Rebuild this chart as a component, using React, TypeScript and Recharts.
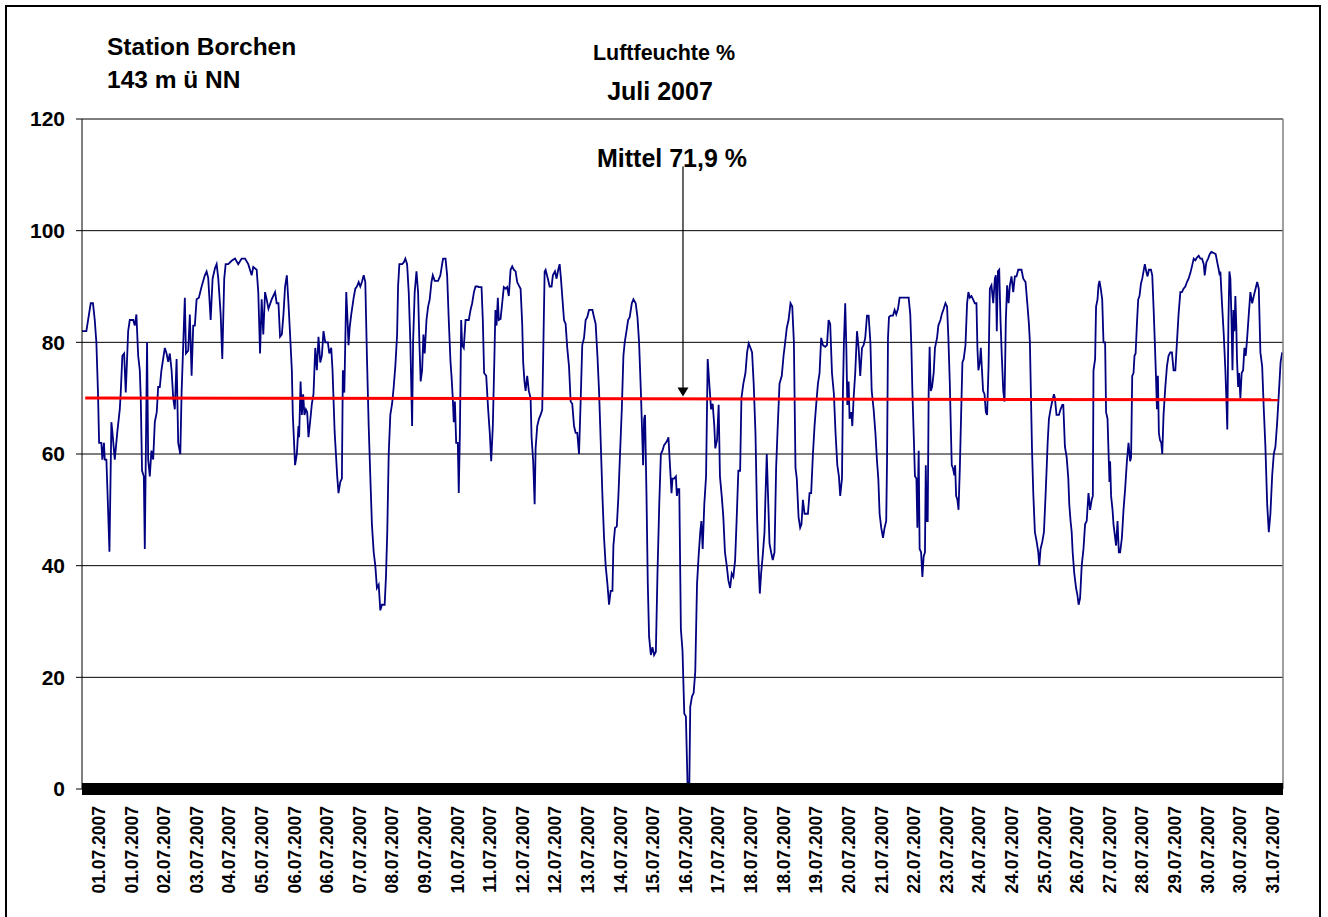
import React from 'react';
import { LineChart, Line, XAxis, YAxis, CartesianGrid, ReferenceLine, ReferenceDot } from 'recharts';

// Hourly relative humidity, July 2007 – [hour since 01.07. 00:00, %]
const period1: [number, number][] = [
  [0,82],[2.7,82],[5.4,87],[6.8,87],[7.9,84],[8.9,80],[9.9,71],[10.6,62],[12,62],[12.6,59],[13.6,62],[14.1,59],[15.1,59],[15.7,54],[17,42.5],[18.2,65.7],[18.8,64],[20.3,59],[21.9,64],[23.4,68],[24,71],[25,77.6],[26.1,78],[27.1,71],[28.6,82],[29.6,84],[31.7,84],[32.7,83],[33.7,85],[34.8,77.6],[35.8,75],[36.4,70],[37.2,57],[38.3,56],[38.9,43],[39.5,59],[40.3,80],[41,59],[42,56],[43,60.6],[44.1,59],[45.1,65.7],[46.3,67.5],[47.2,72],[48.2,72],[49.2,75],[51.3,79],[52.4,78],[53.4,76.5],[54.4,78],[55.5,75],[56.5,70],[57.5,68],[58.6,77],[59.6,62],[60.9,60],[61.7,71],[62.7,79.5],[63.7,88],[64.4,78],[65.8,78.5],[66.8,85],[67.9,74],[68.9,83],[69.9,83],[71,87.7],[72.4,88],[74.1,90],[76.1,92],[77.2,92.7],[78.2,91.5],[79.7,84],[80.9,91.4],[82.4,93.3],[83.4,94],[84.4,91.5],[85.9,85],[86.9,77],[88.1,91.4],[89,94],[90.6,94],[92.7,94.6],[94.8,95],[96.8,94],[98.9,95],[101,95],[103,94],[105.1,92],[106.1,93.5],[108.2,93],[109.2,89],[110.3,78],[111.3,87.7],[112.3,81.4],[113.4,89],[114.4,87.7],[115.5,86],[117.5,87.7],[119.6,89],[120.6,87],
];
const period2: [number, number][] = [
  [121.7,87],[122.7,81],[123.8,81.4],[124.8,85],[125.8,90],[126.9,92],[127.9,87],[128.9,81.4],[130,75],[130.6,67],[132,58],[133.1,60],[134.1,65],[134.5,63],[135.4,73],[136.2,67],[137,70.7],[137.8,67],[138.7,68],[139.5,67.5],[140.3,63],[141.4,66],[142.4,69],[143.4,70.7],[144.5,79],[145.5,75],[146.5,81],[147.6,76.4],[148.6,77.6],[149.6,82],[150.7,80],[152.3,80],[153.2,78],[154.4,79],[155.2,75],[156.5,64],[157.3,60],[158.1,56],[158.9,53],[160,55],[161,55.6],[161.6,75],[162.5,71],[163.7,89],[164.5,84],[165.1,79.5],[165.8,82.6],[166.8,85],[168.3,88],[169.3,89.6],[170.3,90],[171.4,90.8],[172.4,90],[173.4,90.8],[174.5,92],[175.5,90.8],[176.5,77.6],[177.6,65],[178.6,56],[179.6,47.4],[180.7,42.4],[181.7,40],[182.7,36],[183.8,36.6],[184.8,32],[185.8,33],[187.5,33],[188.3,38],[189.1,46],[190,60],[191,67],[192.1,69],[193.1,72],[194.1,75.7],[195.2,81.4],[195.8,90],[196.6,94],[198.3,94],[199.3,94.3],[200.3,95],[201.4,94],[202.4,89],[203.4,80],[204.5,65],[205.1,80],[206.1,89],[207.2,92.7],[208.2,89],[209,80],[209.8,73],[210.7,75],[211.5,81.4],[212.3,78],[213.4,84],[214.4,86.4],[215.4,87.7],[216.5,90.8],[217.3,92],[218.5,91],[220.6,91],[222,92],[223.1,94],[223.7,95],[225.2,95],[226.2,92],[227.2,84],[228.3,76.4],[228.9,74],[229.7,70],[230.3,65.7],[231,69.4],[231.8,62],[232.8,62],[233.4,53],[234.1,63.8],[234.9,84],[235.5,79.5],[236.5,79],[237.6,84],[239.6,84],[240.7,85.8],[241.7,87],[242.8,89],[243.8,90],[245.2,90],
];
const period3: [number, number][] = [
  [245.8,89.9],[247.5,89.9],[248.3,84],[249.1,74.5],[250.4,74],[251.6,68],[252.6,63.8],[253.5,58.7],[254.5,65],[255.5,77.6],[256.1,85.8],[256.8,83],[257.6,88],[258.2,84],[259.3,84.2],[260.3,87],[261.3,89.9],[262.4,89.6],[263.4,89.9],[264.4,88.3],[265.5,93],[266.5,93.6],[267.5,93],[268.6,92.7],[269.6,90.8],[270.6,90.2],[271.7,89.6],[272.7,83.3],[273.3,76.4],[274.1,73],[274.8,71.3],[275.8,74],[276.8,71.3],[277.9,70],[278.5,63],[279.5,58.7],[280.4,51],[281,61],[282,65],[283.1,66.3],[284.1,67],[285.1,67.9],[285.7,77.6],[286.6,92.7],[287.2,93],[288.6,91.4],[289.7,90],[290.9,90],[291.7,92],[293,92.7],[294,91.4],[295,93],[295.9,94],[296.7,91.4],[297.5,88.3],[298.6,84],[299.6,83.3],[300.6,79],[301.7,75.7],[302.7,69.4],[303.7,69],[304.8,65],[305.8,63.8],[306.8,63.8],[307.9,60],[308.9,69.4],[309.9,79.5],[311,80.8],[312,84],[313,84.5],[314.1,85.8],[316.2,85.8],[317.2,84.5],[318.2,83.3],[319.3,77.6],[320.3,71.3],[321.3,62.5],[322.4,52.5],[323.4,45],[324.4,40],[325.5,36.7],[326.5,33],[327.5,35.5],[328.6,35.5],[329.2,43.6],[330.2,46.8],[331.3,47],[332.3,52.5],[333.3,60],[334.4,68],[335.4,77.6],[336.2,80],[337.3,82],[338.3,84],[339.3,84.5],[340.6,87],[341.6,87.7],[343,87],[344.1,84.5],[345.1,80],[346.2,71.3],[346.8,65.7],[347.6,58],[348.2,66.3],[348.8,67],[349.7,52.5],[350.5,36.7],[351.3,27.3],[352.4,24],[353.4,25.4],[354.4,24],[355.5,24.6],[356.5,38.6],[357.6,51],[358.6,60],[359.6,60.6],[360.6,61.6],[361.7,62],[362.7,62.5],[363.3,63],[364.1,58.7],[365.2,53],[365.8,55.6],[366.8,55.6],[367.9,56],[368.5,52.5],[369.3,53.7],
];
const period4: [number, number][] = [
  [370,53.7],[371,28.6],[372,24.8],[373.1,13.5],[374.1,13],[375.2,0],[376.2,0],[376.8,14.7],[377.9,16.6],[378.9,17.2],[379.9,21],[381,36.7],[382,41.8],[383,46],[383.7,48],[384.5,43],[385.5,51],[386.6,56],[387.6,77],[388.6,72.6],[389.7,68],[390.7,69],[391.7,65],[392.3,61],[393.4,62.5],[394.4,68.8],[395.2,56],[396.3,52.5],[397.3,48.7],[398.3,42.4],[399.4,40],[400.4,37.4],[401.5,36],[402.5,38.6],[403.5,38],[404.6,41],[405.6,48.7],[406.6,57],[407.7,57],[408.5,70],[409.7,72.6],[411,74.5],[412,78.2],[413,79.8],[414.1,79],[415.1,78.2],[416.1,72.6],[417.2,63.8],[418.2,48.7],[419,41],[419.9,35],[420.7,38.6],[421.7,41.8],[422.8,46],[423.4,52.5],[424.2,60],[425,52.5],[425.9,44],[426.9,42.4],[427.9,41],[429,42.4],[430,57.5],[431,65],[432.1,72.6],[433.5,74],[434.6,77.6],[435.6,80],[436.6,82.6],[437.7,84],[438.9,87],[440,86.4],[441,80],[442,57.5],[442.8,55.6],[443.9,48.7],[444.9,46.8],[445.7,47.4],[446.6,51.8],[447.6,49.3],[448.6,49.3],[449.7,49.3],[450.7,53],[451.7,53],[452.8,60],[453.8,65],[454.8,68.8],[455.9,72.6],[456.9,74.5],[457.9,80.8],[459,79.5],[460.4,79.2],[461.5,79.5],[462.5,84],[463.5,83.3],[464.6,74.5],[465.8,70.7],[466.8,63.8],[467.9,58],[468.9,56],[469.7,52.5],[470.8,55.6],[471.4,71.3],[472,80],[472.8,87],[473.5,79],[474.1,68.8],[474.9,73],[475.5,66.3],[476.6,67.5],[477.2,65],[478,70],[479,74.5],[480.1,82],[481.1,79],[482.1,74],[483.2,79],[484.2,79.5],[485.2,80.8],[486.3,84.8],[487.3,84.8],[488.4,80],[489.2,71.3],[490.4,68],[491.5,63.8],[492.5,58.7],[493.3,55.6],
];
const period5: [number, number][] = [
  [494.1,49.3],[495.1,46.8],[496.2,45],[497.2,46.8],[498.2,48],[498.7,58.7],[499.3,80.8],[499.9,84.5],[500.9,84.8],[502.4,84.8],[503.4,85.8],[504.4,85],[505.5,86],[506.5,88],[508.6,88],[510.6,88],[512.1,88],[513.1,85],[513.8,79],[514.4,71.3],[515.2,63.8],[516,56],[516.9,55.6],[517.5,46.8],[518.3,60.6],[518.9,43],[519.8,42.4],[520.6,38],[521.4,41.7],[522.2,42.4],[522.7,58],[523.3,48],[523.9,48],[524.5,71.3],[525.1,79.2],[525.8,71.3],[526.6,72],[527.6,74.5],[528.4,79],[529.7,80.8],[530.5,83],[531.8,84],[532.6,85],[533.8,86],[534.9,87],[535.9,86.4],[536.7,80.8],[537.6,72.6],[538.2,65],[538.8,58],[539.6,57.4],[540.4,56.2],[540.9,58],[541.5,52.5],[542.3,51.8],[543,50],[543.8,57.4],[544.6,67],[545.4,76.4],[546.2,77],[547.3,79.5],[548.3,87],[549.1,89],[550,88],[551,88.3],[552,87.7],[553.1,87],[554.1,87],[554.7,79],[555.3,75],[556.2,76.4],[556.8,79],[557.4,75.7],[558.2,71.3],[559.1,70.7],[559.9,67.5],[560.7,67],[561.6,75.7],[562.4,89.6],[563.4,90.2],[564.5,87],[565.5,91.4],[566.1,92],[566.7,82],[567.4,92.7],[568.2,93],[569,84],[569.8,77.6],[570.7,71.3],[571.5,69.4],[572.3,84],[573.1,90.2],[574,87],[574.8,90.2],[575.8,91.8],[576.9,89],[577.9,91.8],[578.9,91.8],[580,93],[581,93],[582,93],[583.1,91.4],[584.5,90.8],[585.6,87],[586.6,83.3],[587.2,80],[587.8,71.3],[588.5,61],[589.3,53],[590.3,46],[591.4,44.3],[592.4,42.4],[593,40],[593.8,43],[594.9,44.3],[595.9,46],[596.9,52.5],[597.6,57.5],[598.2,62],[599,66.3],[600,68],[601,69.4],[602.1,70.7],[602.7,70],[603.7,67],[605.2,67],[606.2,68],[607.3,68.8],[607.9,68.8],[608.9,61.3],[610,59.4],[611,55.6],[611.6,51],[612.4,48],[613.1,46],[613.7,42.4],[614.7,38.6],[615.8,36],[616.6,34.8],[617.4,33],
];
const period6: [number, number][] = [
  [618.3,34.2],[619.3,40],[620.4,43],[621.4,47.4],[622.4,48],[623.5,53],[624.5,50],[625.5,51.8],[626.2,52.5],[626.6,75],[627.6,77],[628.2,86.4],[629.1,87.7],[629.7,90.2],[630.3,91],[631.1,89.6],[632,87.7],[632.8,80],[633.8,80],[634.4,67.5],[635.3,66.3],[636.1,58.7],[636.5,55],[636.9,58.7],[637.5,52.5],[638.4,50],[639,47.4],[639.8,45.5],[640.6,43.6],[641.5,48],[642.3,42.4],[643.1,42.4],[644.2,45],[645.2,50],[646.2,53.7],[647.3,58.7],[648.3,62],[649.3,58.7],[649.9,59.4],[650.6,74],[651.4,74.5],[652,77.6],[652.7,78],[653.5,83.3],[654.3,87.7],[655.1,88.3],[656,90.5],[656.8,91.4],[657.6,92.7],[658.4,94],[659.3,92.7],[660.1,91.8],[660.9,93],[662.2,93],[663,92],[663.8,86.4],[664.6,80],[665.3,74],[665.9,68],[666.5,74],[667.1,63.8],[667.8,62.5],[668.6,62],[669.2,60],[670,67],[671.1,72],[672.1,75.7],[673.1,77.6],[674.2,78.2],[675.2,78.2],[676.2,75],[677.3,75],[678.3,80],[679.3,85],[680.4,89],[681.4,89],[682.4,89.6],[683.5,90],[684.5,90.8],[685.5,91.4],[686.6,92.4],[687.6,93.6],[688.7,95],[689.7,94.7],[690.7,95.2],[691.8,95.5],[692.8,95],[693.8,95],[694.9,94],[695.5,92],[696.5,94.3],[697.6,95],[698.6,95.8],[699.6,96.2],[701.1,96],[702.3,95.8],[703.1,94.6],[704.2,93],[704.8,92],[705.2,92.7],[706.2,87],[707.3,81.4],[708.3,75],[708.9,70],[709.5,64.4],[710.2,84],[710.8,92.7],[711.4,91.4],[712.1,84],[712.7,75],[713.3,85.8],[713.9,82],[714.5,88.3],[715.1,82.6],[715.5,77],[716.2,72],[716.8,74.5],[717.6,70],[718.4,74.5],[719.3,75],[720.1,79],[720.9,77.6],[721.8,80.8],[722.8,85],[723.8,89],[724.9,87],[725.9,88.3],[727,89.6],[728,90.8],[729,89.6],[730,78.2],[731.1,75.7],[732.1,68],[733.1,61.3],[734.2,51],[735.2,46],[736.2,49.3],[737.3,56.2],[738.3,60],[739.3,61.3],[740.4,65.7],[741.4,70.7],[742.5,76.4],[743.5,78.2],
];

const tickLabels = [
  '01.07.2007','01.07.2007','02.07.2007','03.07.2007','04.07.2007','05.07.2007','06.07.2007','06.07.2007',
  '07.07.2007','08.07.2007','09.07.2007','10.07.2007','11.07.2007','12.07.2007','12.07.2007','13.07.2007',
  '14.07.2007','15.07.2007','16.07.2007','17.07.2007','18.07.2007','18.07.2007','19.07.2007','20.07.2007',
  '21.07.2007','22.07.2007','23.07.2007','24.07.2007','24.07.2007','25.07.2007','26.07.2007','27.07.2007',
  '28.07.2007','29.07.2007','30.07.2007','30.07.2007','31.07.2007',
];
const yTicks = [0, 20, 40, 60, 80, 100, 120];
const monthHours = 744;
const firstLabelHour = 10.5;
const labelStepHours = 20.2;
const trendStart = { h: 2, v: 70.05 };
const trendEnd = { h: 741, v: 69.7 };
const arrowHour = 372.3;
const arrowFrom = 111.5;
const arrowTip = 70.3;

const data = [...period1, ...period2, ...period3, ...period4, ...period5, ...period6].map(([h, v]) => ({ h, v }));
const xTicks = tickLabels.map((_, i) => firstLabelHour + i * labelStepHours);

const FONT = "'Liberation Sans', Arial, Helvetica, sans-serif";

const DateTick = (props: any) => {
  const { x, y, index, payload } = props;
  const i = typeof index === 'number' ? index : Math.round((payload.value - firstLabelHour) / labelStepHours);
  return (
    <text
      transform={`translate(${x},${y + 17}) rotate(-90)`}
      textAnchor="end"
      dominantBaseline="central"
      fontSize={17.5}
      fontWeight="bold"
      fontFamily={FONT}
      fill="#000"
    >
      {tickLabels[i]}
    </text>
  );
};

const ArrowHead = (props: any) => {
  const { cx, cy } = props;
  if (cx == null || cy == null) return null;
  return <polygon points={`${cx},${cy} ${cx - 5.5},${cy - 9} ${cx + 5.5},${cy - 9}`} fill="#000" />;
};

export default function App() {
  return (
    <div style={{ position: 'absolute', left: 0, top: 0, width: 1328, height: 917, overflow: 'hidden', background: '#fff' }}>
      <div style={{ position: 'absolute', left: 5, top: 5, width: 1316, height: 940, border: '2px solid #000', boxSizing: 'border-box' }} />
      <div style={{ position: 'absolute', left: 0, top: 0 }}>
        <LineChart width={1328} height={917} data={data} margin={{ top: 119, right: 45, bottom: 8, left: 0 }}>
          <CartesianGrid vertical={false} stroke="#000" strokeWidth={1} />
          <XAxis
            type="number"
            dataKey="h"
            domain={[0, monthHours]}
            ticks={xTicks}
            interval={0}
            tick={<DateTick />}
            tickLine={false}
            tickSize={0}
            tickMargin={0}
            axisLine={{ stroke: '#000', strokeWidth: 12 }}
            height={120}
            allowDataOverflow
          />
          <YAxis
            type="number"
            domain={[0, 120]}
            ticks={yTicks}
            interval={0}
            width={82}
            tickSize={6}
            tickMargin={11}
            axisLine={{ stroke: '#000', strokeWidth: 1 }}
            tickLine={{ stroke: '#000' }}
            tick={{ fill: '#000', fontSize: 21, fontWeight: 'bold', fontFamily: FONT }}
            allowDataOverflow
          />
          <Line type="linear" dataKey="v" stroke="#000080" strokeWidth={1.8} dot={false} isAnimationActive={false} />
          <ReferenceLine x={monthHours} stroke="#808080" strokeWidth={1.5} />
          <ReferenceLine
            segment={[{ x: trendStart.h, y: trendStart.v }, { x: trendEnd.h, y: trendEnd.v }]}
            stroke="#FF0000"
            strokeWidth={3}
          />
          <ReferenceLine
            segment={[{ x: arrowHour, y: arrowFrom }, { x: arrowHour, y: arrowTip + 1.4 }]}
            stroke="#000"
            strokeWidth={1.2}
          />
          <ReferenceDot x={arrowHour} y={arrowTip} r={1} shape={<ArrowHead />} />
        </LineChart>
      </div>
      <svg width={1328} height={917} style={{ position: 'absolute', left: 0, top: 0, pointerEvents: 'none' }}>
        <g fontFamily={FONT} fontWeight="bold" fill="#000">
          <text x={107} y={55} fontSize={24.5}>Station Borchen</text>
          <text x={107} y={88} fontSize={24.5}>143 m ü NN</text>
          <text x={664} y={60} fontSize={21.5} textAnchor="middle">Luftfeuchte %</text>
          <text x={660} y={100} fontSize={25} textAnchor="middle">Juli 2007</text>
          <text x={672} y={167} fontSize={25} textAnchor="middle">Mittel 71,9 %</text>
        </g>
      </svg>
    </div>
  );
}
